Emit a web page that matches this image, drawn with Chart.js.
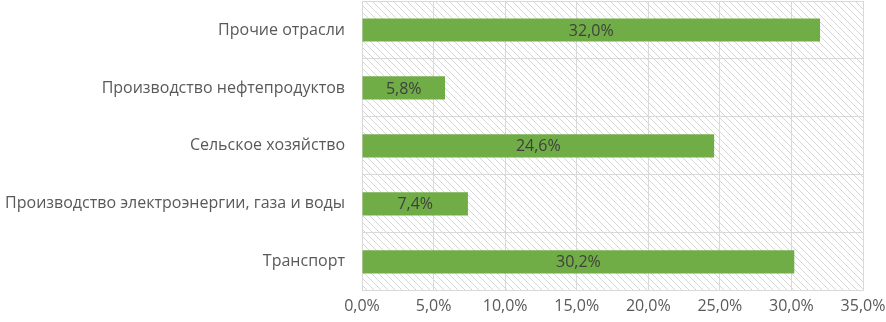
<!DOCTYPE html>
<html>
<head>
<meta charset="utf-8">
<script src="https://cdn.jsdelivr.net/npm/chart.js@4/dist/chart.umd.min.js"></script>
<style>
  html, body { margin: 0; padding: 0; background: #fff; }
  #wrap { width: 886px; height: 322px; }
</style>
</head>
<body>
<div id="wrap"><canvas id="chart"></canvas></div>
<script>
const categories = [
  "Прочие отрасли",
  "Производство нефтепродуктов",
  "Сельское хозяйство",
  "Производство электроэнергии, газа и воды",
  "Транспорт"
];
const shares = [32.0, 5.8, 24.6, 7.4, 30.2];
const xTicks = [0, 5, 10, 15, 20, 25, 30, 35];

const fmt = (v) => v.toFixed(1).replace(".", ",") + "%";

// hatched plot background
function makeHatch(ctx) {
  const s = 7;
  const c = document.createElement("canvas");
  c.width = s; c.height = s;
  const p = c.getContext("2d");
  p.strokeStyle = "#d6d6d6";
  p.lineWidth = 1;
  p.beginPath();
  p.moveTo(0, 0); p.lineTo(s, s);
  p.moveTo(-s, 0); p.lineTo(s, 2 * s);
  p.moveTo(0, -s); p.lineTo(2 * s, s);
  p.stroke();
  return ctx.createPattern(c, "repeat");
}

const hatchBg = {
  id: "hatchBg",
  beforeDraw(chart) {
    const { ctx, chartArea: a } = chart;
    ctx.save();
    ctx.fillStyle = makeHatch(ctx);
    ctx.fillRect(a.left, a.top, a.right - a.left, a.bottom - a.top);
    ctx.restore();
  }
};

const barLabels = {
  id: "barLabels",
  afterDatasetsDraw(chart) {
    const { ctx } = chart;
    const meta = chart.getDatasetMeta(0);
    ctx.save();
    ctx.font = "16px 'Open Sans'";
    ctx.fillStyle = "#404040";
    ctx.textAlign = "center";
    ctx.textBaseline = "middle";
    meta.data.forEach((bar, i) => {
      const cx = (bar.x + bar.base) / 2;
      ctx.fillText(fmt(shares[i]), cx, bar.y + 1);
    });
    ctx.restore();
  }
};

const context = document.getElementById("chart").getContext("2d");
new Chart(context, {
  type: "bar",
  data: {
    labels: categories,
    datasets: [{
      data: shares,
      backgroundColor: "#70ad47",
      borderWidth: 0,
      categoryPercentage: 0.8,
      barPercentage: 0.5
    }]
  },
  options: {
    indexAxis: "y",
    responsive: true,
    maintainAspectRatio: false,
    animation: false,
    layout: { padding: { top: 1, right: 23, bottom: 0, left: 0 } },
    plugins: {
      legend: { display: false },
      tooltip: { enabled: false }
    },
    scales: {
      x: {
        min: 0,
        max: 35,
        afterBuildTicks: (scale) => { scale.ticks = xTicks.map(v => ({ value: v })); },
        afterFit: (scale) => { scale.paddingRight = 0; scale.paddingLeft = 0; },
        ticks: {
          callback: (v) => fmt(v),
          color: "#595959",
          font: { family: "'Open Sans'", size: 16 },
          padding: 6,
          maxRotation: 0
        },
        grid: { color: "#d9d9d9", drawTicks: false },
        border: { display: false }
      },
      y: {
        afterFit: (scale) => {
          scale.width = 362;
          scale.paddingTop = 0;
          scale.paddingBottom = 0;
        },
        ticks: {
          color: "#595959",
          font: { family: "'Open Sans'", size: 16 },
          padding: 17
        },
        grid: { offset: true, color: "#d9d9d9", drawTicks: false },
        border: { display: false }
      }
    }
  },
  plugins: [hatchBg, barLabels]
});
</script>
</body>
</html>
